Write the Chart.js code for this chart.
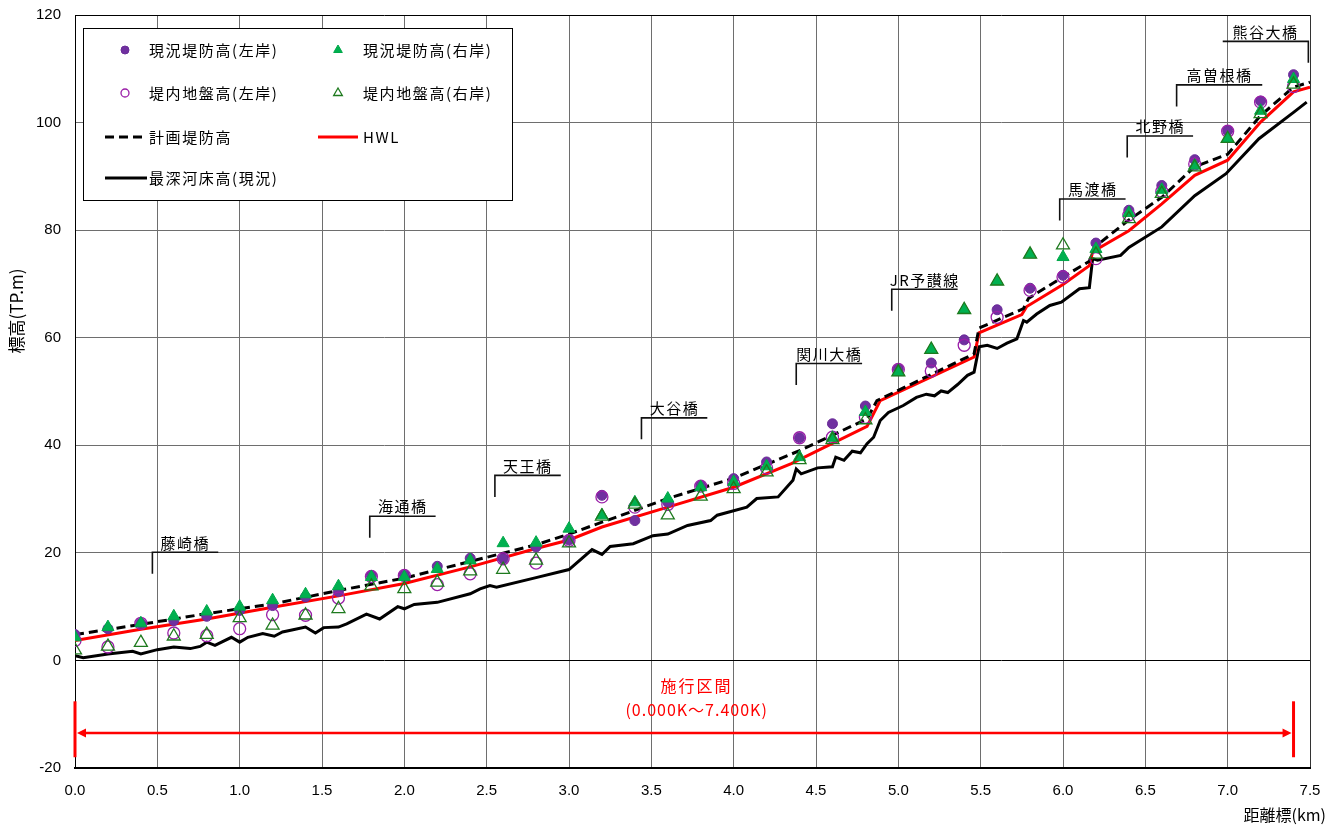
<!DOCTYPE html>
<html lang="ja">
<head>
<meta charset="utf-8">
<title>縦断図</title>
<script src="https://cdn.jsdelivr.net/npm/chart.js@4.4.1/dist/chart.umd.min.js"></script>
<style>
  html, body { margin: 0; padding: 0; background: #fff; }
  #wrap { width: 1338px; height: 827px; position: relative; }
</style>
</head>
<body>
<div id="wrap"><canvas id="profileChart"></canvas></div>
<script>
// --- survey stations (km) and point series ---
const stationKm = [0.0, 0.2, 0.4, 0.6, 0.8, 1.0, 1.2, 1.4, 1.6, 1.8, 2.0, 2.2, 2.4, 2.6, 2.8, 3.0, 3.2, 3.4, 3.6, 3.8,
    4.0, 4.2, 4.4, 4.6, 4.8, 5.0, 5.2, 5.4, 5.6, 5.8, 6.0, 6.2, 6.4, 6.6, 6.8, 7.0, 7.2, 7.4];
const leveeLeft = [4.8, 5.9, 6.9, 7.4, 8.2, 9.3, 10.2, 11.8, 12.8, 15.8, 15.9, 17.5, 19.0, 18.9, 21.1, 22.4, 30.7, 26.0, 29.4, 32.5,
    33.8, 36.9, 41.4, 44.0, 47.3, 54.2, 55.3, 59.6, 65.2, 69.2, 71.6, 77.6, 83.7, 88.3, 93.1, 98.5, 104.0, 108.9];
const leveeRight = [4.3, 6.2, 6.9, 8.2, 9.1, 10.0, 11.2, 12.3, 13.8, 15.5, 15.5, 17.0, 18.6, 21.8, 21.9, 24.5, 27.0, 29.4, 30.1, 32.2,
    33.2, 36.1, 37.8, 41.4, 46.2, 53.6, 57.8, 65.2, 70.5, 75.5, 75.0, 76.5, 83.2, 87.5, 92.0, 97.0, 102.2, 108.1];
const groundLeft = [3.7, 2.5, 6.9, 5.1, 4.6, 5.9, 8.5, 8.4, 11.6, 15.6, 15.8, 14.1, 16.1, 18.9, 18.1, 22.3, 30.4, 28.5, 29.0, 32.4,
    32.9, 35.8, 41.4, 41.5, 45.2, 54.1, 53.8, 58.6, 63.8, 68.8, 71.3, 74.7, 82.8, 87.2, 92.3, 98.4, 103.8, 106.7];
const groundRight = [1.9, 2.6, 3.3, 4.5, 4.8, 7.9, 6.5, 8.4, 9.6, 13.8, 13.3, 14.5, 16.6, 16.9, 18.6, 21.8, 26.8, 29.0, 27.0, 30.5,
    31.9, 35.0, 37.3, 41.0, 44.7, 53.6, 57.8, 65.2, 70.5, 75.5, 77.2, 75.5, 82.1, 86.8, 91.7, 97.0, 101.6, 107.1];

// planned levee crown (計画堤防高)
const planKm = [0, 0.4, 0.8, 1.2, 1.6, 2.0, 2.4, 2.8, 3.0, 3.2, 3.6, 4.0, 4.4, 4.81, 4.87, 5.46, 5.49, 5.76, 5.79,
    6.0, 6.16, 6.19, 6.4, 6.6, 6.8, 7.0, 7.2, 7.4, 7.5];
const planLevel = [4.8, 6.7, 8.7, 10.5, 13.0, 15.3, 18.4, 21.5, 23.5, 25.7, 30.1, 33.9, 39.0, 44.9, 48.3, 57.0, 61.8, 65.4, 67.3,
    71.3, 74.2, 76.8, 81.9, 86.1, 91.8, 94.1, 101.3, 106.6, 107.5];

// HWL
const hwlKm = [0, 0.4, 0.8, 1.2, 1.6, 2.0, 2.4, 2.8, 3.0, 3.2, 3.6, 4.0, 4.35, 4.81, 4.89, 5.46, 5.49, 5.75, 5.78,
    6.0, 6.16, 6.18, 6.4, 6.6, 6.8, 7.0, 7.2, 7.4, 7.5];
const hwlLevel = [3.7, 5.8, 7.7, 9.9, 12.0, 14.3, 17.4, 20.8, 22.4, 24.8, 28.5, 32.2, 36.6, 43.5, 48.3, 56.4, 60.9, 64.3, 65.8,
    69.9, 73.4, 76.0, 79.9, 84.9, 90.2, 93.0, 100.1, 105.7, 106.6];

// deepest river bed (最深河床高)
const bedKm = [0.00, 0.05, 0.20, 0.35, 0.40, 0.50, 0.60, 0.70, 0.76, 0.80, 0.85, 0.95, 1.00, 1.05, 1.14, 1.21, 1.26, 1.31,
    1.40, 1.46, 1.51, 1.60, 1.65, 1.77, 1.85, 1.96, 2.00, 2.06, 2.20, 2.40, 2.46, 2.52, 2.56, 2.80, 3.00, 3.14, 3.20, 3.25,
    3.39, 3.51, 3.60, 3.72, 3.86, 3.90, 4.08, 4.14, 4.27, 4.36, 4.38, 4.41, 4.51, 4.60, 4.62, 4.67, 4.72, 4.77, 4.81, 4.85,
    4.89, 4.94, 5.03, 5.11, 5.17, 5.22, 5.26, 5.30, 5.36, 5.42, 5.46, 5.49, 5.54, 5.60, 5.66, 5.72, 5.76, 5.78, 5.84, 5.92,
    5.99, 6.10, 6.16, 6.18, 6.21, 6.35, 6.40, 6.60, 6.80, 6.99, 7.19, 7.40, 7.48];
const bedLevel = [0.9, 0.5, 1.2, 1.7, 1.2, 2.0, 2.5, 2.2, 2.6, 3.4, 2.8, 4.3, 3.4, 4.3, 5.0, 4.5, 5.3, 5.6,
    6.2, 5.1, 6.1, 6.2, 6.8, 8.6, 7.7, 10.0, 9.6, 10.4, 10.8, 12.4, 13.3, 13.9, 13.6, 15.4, 16.9, 20.6, 19.7, 21.2,
    21.7, 23.2, 23.5, 25.1, 26.0, 27.0, 28.5, 30.1, 30.4, 33.5, 35.6, 34.7, 35.8, 36.0, 37.8, 37.2, 38.9, 38.6, 40.3, 41.5,
    44.6, 46.1, 47.4, 48.9, 49.5, 49.2, 50.1, 49.8, 51.3, 53.0, 53.6, 58.3, 58.6, 58.0, 59.0, 59.8, 63.2, 62.9, 64.4, 66.0,
    66.6, 69.1, 69.3, 74.7, 74.4, 75.3, 76.8, 80.6, 86.4, 90.5, 97.0, 101.9, 103.8];

// bridges: name, km, bracket level, bracket span (km)
const bridgeNames = ['藤崎橋', '海通橋', '天王橋', '大谷橋', '関川大橋', 'JR予讃線', '馬渡橋', '北野橋', '高曽根橋', '熊谷大橋'];
const bridgeKm = [0.47, 1.79, 2.55, 3.44, 4.38, 4.96, 5.98, 6.39, 6.69, 7.49];
const bridgeLevel = [20.1, 26.8, 34.4, 45.1, 55.2, 69.0, 85.8, 97.5, 107.0, 115.1];
const bridgeSpan = [0.4, 0.4, 0.4, 0.4, 0.4, 0.4, 0.4, 0.4, 0.52, -0.52];

// construction section
const sectionKm = [0.0, 7.4];
const sectionLabels = ['施行区間', '(0.000K～7.400K)'];

const JP = '"Noto Sans CJK JP", "Noto Sans", sans-serif';
const LATIN = '"Liberation Sans", Arial, sans-serif';

const pts = (xs, ys) => xs.map((x, i) => ({ x: x, y: ys[i] }));

// legend grid placement per dataset
const legendCol = [0, 1, 0, 1, 0, 1, 0];
const legendRow = [0, 0, 1, 1, 2, 2, 3];

function drawOverlay(chart) {
    const { ctx, chartArea: a, scales } = chart;
    const xs = scales.x, ys = scales.y;
    ctx.save();

    // bridge brackets
    ctx.strokeStyle = '#111';
    ctx.lineWidth = 1.6;
    ctx.fillStyle = '#000';
    ctx.font = '15px ' + JP;
    ctx.letterSpacing = '1.5px';
    ctx.textAlign = 'center';
    ctx.textBaseline = 'bottom';
    bridgeNames.forEach((name, i) => {
        const x0 = xs.getPixelForValue(bridgeKm[i]);
        const x1 = xs.getPixelForValue(bridgeKm[i] + bridgeSpan[i]);
        const yt = ys.getPixelForValue(bridgeLevel[i]);
        const yb = ys.getPixelForValue(bridgeLevel[i] - 4);
        ctx.beginPath();
        ctx.moveTo(x0, yb);
        ctx.lineTo(x0, yt);
        ctx.lineTo(x1, yt);
        ctx.stroke();
        ctx.fillText(name, (x0 + x1) / 2, yt - 2);
    });

    // construction section arrow
    const sx0 = xs.getPixelForValue(sectionKm[0]);
    const sx1 = xs.getPixelForValue(sectionKm[1]);
    const ay = ys.getPixelForValue(-13.5);
    const barTop = ys.getPixelForValue(-7.6);
    const barBot = ys.getPixelForValue(-18.0);
    ctx.strokeStyle = '#ff0000';
    ctx.fillStyle = '#ff0000';
    ctx.lineWidth = 3;
    [sx0, sx1].forEach((sx) => {
        ctx.beginPath();
        ctx.moveTo(sx, barTop);
        ctx.lineTo(sx, barBot);
        ctx.stroke();
    });
    ctx.lineWidth = 2.5;
    ctx.beginPath();
    ctx.moveTo(sx0 + 8, ay);
    ctx.lineTo(sx1 - 8, ay);
    ctx.stroke();
    ctx.beginPath();
    ctx.moveTo(sx0 + 2, ay);
    ctx.lineTo(sx0 + 11, ay - 4.5);
    ctx.lineTo(sx0 + 11, ay + 4.5);
    ctx.closePath();
    ctx.fill();
    ctx.beginPath();
    ctx.moveTo(sx1 - 2, ay);
    ctx.lineTo(sx1 - 11, ay - 4.5);
    ctx.lineTo(sx1 - 11, ay + 4.5);
    ctx.closePath();
    ctx.fill();

    const lx = xs.getPixelForValue(3.775);
    ctx.font = '16px ' + JP;
    ctx.textBaseline = 'middle';
    ctx.letterSpacing = '2px';
    ctx.fillText(sectionLabels[0], lx, ys.getPixelForValue(-4.7));
    ctx.letterSpacing = '1px';
    ctx.fillText(sectionLabels[1], lx, ys.getPixelForValue(-9.2));

    // axis titles
    ctx.fillStyle = '#000';
    ctx.letterSpacing = '0px';
    ctx.font = '17px ' + JP;
    ctx.save();
    ctx.translate(17, 311);
    ctx.rotate(-Math.PI / 2);
    ctx.textAlign = 'center';
    ctx.fillText('標高(TP.m)', 0, 0);
    ctx.restore();
    ctx.font = '16px ' + JP;
    ctx.textAlign = 'right';
    ctx.fillText('距離標(km)', 1326, 815);

    // legend
    const bx = a.left + 8, by = a.top + 13, bw = 429, bh = 172;
    const rowY = [22, 65, 109, 150];
    const markX = [42, 255];
    const textX = [66, 280];
    const lineX = [[22, 64], [235, 275]];
    ctx.fillStyle = '#fff';
    ctx.fillRect(bx, by, bw, bh);
    ctx.strokeStyle = '#000';
    ctx.lineWidth = 1;
    ctx.setLineDash([]);
    ctx.strokeRect(bx + 0.5, by + 0.5, bw, bh);
    ctx.font = '15px ' + JP;
    ctx.letterSpacing = '1.6px';
    ctx.textAlign = 'left';
    ctx.textBaseline = 'middle';
    chart.data.datasets.forEach((ds, i) => {
        const col = legendCol[i];
        const cy = by + rowY[legendRow[i]];
        if (ds.showLine) {
            ctx.save();
            ctx.strokeStyle = ds.borderColor;
            ctx.lineWidth = ds.borderWidth;
            ctx.setLineDash(ds.borderDash || []);
            ctx.beginPath();
            ctx.moveTo(bx + lineX[col][0], cy);
            ctx.lineTo(bx + lineX[col][1], cy);
            ctx.stroke();
            ctx.restore();
        } else {
            ctx.save();
            ctx.fillStyle = ds.backgroundColor;
            ctx.strokeStyle = ds.borderColor;
            ctx.lineWidth = ds.borderWidth;
            Chart.helpers.drawPoint(ctx, {
                pointStyle: ds.pointStyle,
                radius: ds.pointStyle === 'triangle' ? 5 : 4,
                rotation: 0,
                borderWidth: ds.borderWidth,
            }, bx + markX[col], cy);
            ctx.restore();
        }
        ctx.fillStyle = '#000';
        ctx.fillText(ds.label, bx + textX[col], cy);
    });

    ctx.restore();
}

const overlayPlugin = {
    id: 'overlay',
    afterDraw(chart) {
        drawOverlay(chart);
    },
};

Chart.defaults.font.family = LATIN;
Chart.defaults.font.size = 15;
Chart.defaults.color = '#000';

const ctx = document.getElementById('profileChart').getContext('2d');
new Chart(ctx, {
    type: 'scatter',
    data: {
        datasets: [
            {
                label: '現況堤防高(左岸)',
                data: pts(stationKm, leveeLeft),
                pointStyle: 'circle',
                pointRadius: 5,
                backgroundColor: '#7030a0',
                borderColor: '#6a2c98',
                borderWidth: 1,
                order: 4,
            },
            {
                label: '現況堤防高(右岸)',
                data: pts(stationKm, leveeRight),
                pointStyle: 'triangle',
                pointRadius: 7,
                backgroundColor: '#00b050',
                borderColor: '#00a84a',
                borderWidth: 1,
                order: 2,
            },
            {
                label: '堤内地盤高(左岸)',
                data: pts(stationKm, groundLeft),
                pointStyle: 'circle',
                pointRadius: 6,
                backgroundColor: 'rgba(0,0,0,0)',
                borderColor: '#9a1fa8',
                borderWidth: 1.3,
                order: 3,
            },
            {
                label: '堤内地盤高(右岸)',
                data: pts(stationKm, groundRight),
                pointStyle: 'triangle',
                pointRadius: 7.5,
                backgroundColor: 'rgba(0,0,0,0)',
                borderColor: '#1e7a1e',
                borderWidth: 1.3,
                order: 1,
            },
            {
                label: '計画堤防高',
                type: 'line',
                data: pts(planKm, planLevel),
                showLine: true,
                borderColor: '#000',
                borderWidth: 3,
                borderDash: [9, 5],
                pointRadius: 0,
                fill: false,
                order: 5,
            },
            {
                label: 'HWL',
                type: 'line',
                data: pts(hwlKm, hwlLevel),
                showLine: true,
                borderColor: '#ff0000',
                borderWidth: 3,
                pointRadius: 0,
                fill: false,
                order: 6,
            },
            {
                label: '最深河床高(現況)',
                type: 'line',
                data: pts(bedKm, bedLevel),
                showLine: true,
                borderColor: '#000',
                borderWidth: 3,
                pointRadius: 0,
                fill: false,
                order: 7,
            },
        ],
    },
    options: {
        responsive: true,
        maintainAspectRatio: false,
        animation: false,
        devicePixelRatio: 1,
        layout: { padding: { top: 15, right: 28, left: 0, bottom: 0 } },
        plugins: {
            legend: { display: false },
            tooltip: { enabled: false },
        },
        scales: {
            x: {
                type: 'linear',
                min: 0,
                max: 7.5,
                ticks: {
                    stepSize: 0.5,
                    padding: 14,
                    maxRotation: 0,
                    callback: (v) => v.toFixed(1),
                },
                grid: {
                    drawTicks: false,
                    color: (c) => (c.tick && c.tick.value === 7.5 ? '#333' : '#6e6e6e'),
                },
                border: { color: '#000', width: 2 },
                afterFit: (s) => {
                    s.height = 59;
                    s.paddingLeft = 0;
                    s.paddingRight = 0;
                },
            },
            y: {
                min: -20,
                max: 120,
                ticks: { stepSize: 20, padding: 14 },
                grid: {
                    drawTicks: false,
                    color: (c) => (c.tick && (c.tick.value === 0 || c.tick.value === 120) ? '#000' : '#6e6e6e'),
                },
                border: { color: '#000', width: 1 },
                afterFit: (s) => {
                    s.width = 75;
                    s.paddingTop = 0;
                    s.paddingBottom = 0;
                },
            },
        },
    },
    plugins: [overlayPlugin],
});
</script>
</body>
</html>
